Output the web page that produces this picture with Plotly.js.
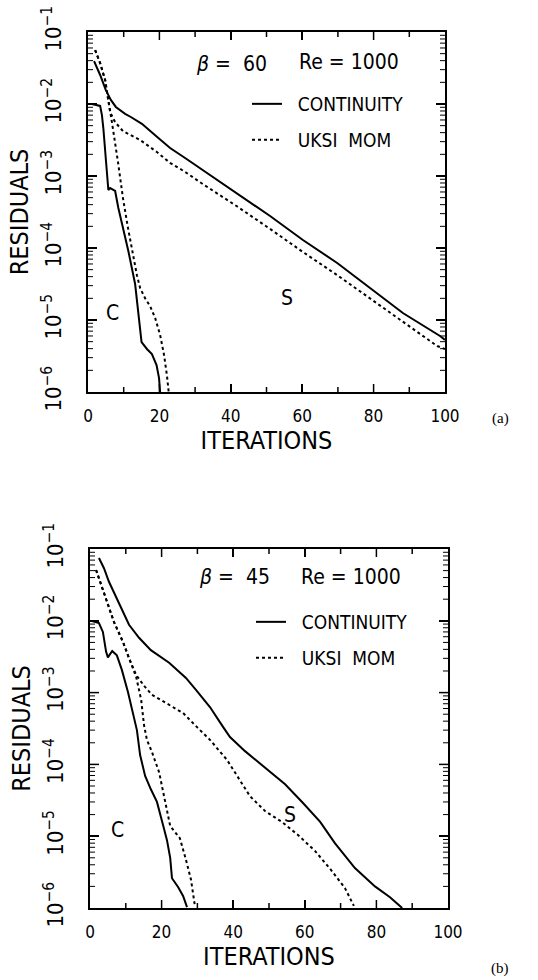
<!DOCTYPE html>
<html><head><meta charset="utf-8">
<script src="https://cdn.plot.ly/plotly-3.0.1.min.js"></script>
<style>html,body{margin:0;padding:0;background:#fff}#chart{width:538px;height:980px}</style>
</head><body><div id="chart"></div>
<script>
// ---------- Panel (a): beta = 60, Re = 1000 ----------
const itA_contS = [1.7, 3.4, 5.0, 6.4, 7.8, 10.4, 12.0, 15.1, 19.3, 23.0, 27.2, 33.3, 41.7, 51.0, 60.2, 69.8, 79.0, 88.2, 98.6, 100];
const resA_contS = [3.95e-2, 2.53e-2, 1.56e-2, 1.14e-2, 9.1e-3, 7.3e-3, 6.6e-3, 5.3e-3, 3.5e-3, 2.45e-3, 1.78e-3, 1.10e-3, 5.8e-4, 2.78e-4, 1.29e-4, 6.2e-5, 2.78e-5, 1.25e-5, 6.0e-6, 5.3e-6];
const itA_momS = [2.0, 3.4, 4.8, 5.6, 6.2, 7.6, 9.8, 14.6, 19.3, 23.0, 27.2, 32.2, 41.7, 51.0, 60.2, 69.8, 79.0, 88.2, 97.8, 100];
const resA_momS = [5.6e-2, 3.7e-2, 2.15e-2, 1.21e-2, 7.7e-3, 5.6e-3, 4.2e-3, 3.16e-3, 2.15e-3, 1.52e-3, 1.14e-3, 7.7e-4, 3.8e-4, 1.84e-4, 8.8e-5, 4.2e-5, 2.0e-5, 9.4e-6, 4.35e-6, 3.96e-6];
const itA_contC = [1.1, 3.4, 3.9, 4.3, 5.2, 5.7, 6.2, 7.6, 8.5, 9.9, 11.3, 13.2, 14.2, 15.0, 16.5, 17.9, 19.2, 19.9, 20.2];
const resA_contC = [1.0e-2, 9.4e-3, 7.0e-3, 4.6e-3, 1.29e-3, 6.4e-4, 6.8e-4, 6.2e-4, 3.6e-4, 1.84e-4, 9.1e-5, 3.16e-5, 1.21e-5, 4.95e-6, 3.96e-6, 3.37e-6, 2.37e-6, 1.56e-6, 1.0e-6];
const itA_momC = [2.0, 3.4, 4.8, 5.6, 6.7, 8.4, 9.8, 11.2, 12.6, 13.7, 14.6, 16.0, 17.4, 18.8, 20.2, 21.3, 22.1, 22.6];
const resA_momC = [5.6e-2, 3.7e-2, 2.15e-2, 1.25e-2, 5.6e-3, 1.56e-3, 4.9e-4, 1.9e-4, 8.0e-5, 4.2e-5, 2.78e-5, 2.0e-5, 1.56e-5, 1.07e-5, 6.2e-6, 3.27e-6, 1.72e-6, 1.0e-6];

// ---------- Panel (b): beta = 45, Re = 1000 ----------
const itB_contS = [2.5, 3.9, 5.3, 7.3, 9.2, 10.9, 13.7, 17.0, 22.1, 26.8, 29.6, 33.5, 37.2, 39.1, 43.3, 48.9, 54.5, 59.5, 64.3, 68.4, 74.0, 79.6, 83.8, 87.2];
const resB_contS = [7.5e-2, 5.4e-2, 3.5e-2, 2.1e-2, 1.33e-2, 8.8e-3, 5.8e-3, 3.9e-3, 2.6e-3, 1.6e-3, 1.09e-3, 6.3e-4, 3.3e-4, 2.4e-4, 1.53e-4, 8.9e-5, 5.3e-5, 2.9e-5, 1.58e-5, 8.0e-6, 3.6e-6, 2.0e-6, 1.41e-6, 1.0e-6];
const itB_momS = [1.7, 3.1, 5.0, 6.7, 9.2, 10.9, 12.9, 15.1, 17.3, 21.2, 26.0, 29.9, 33.5, 38.3, 41.9, 44.7, 48.9, 53.6, 58.1, 62.9, 67.3, 71.2, 73.7];
const resB_momS = [5.1e-2, 3.16e-2, 1.77e-2, 9.6e-3, 5.1e-3, 3.0e-3, 1.76e-3, 1.24e-3, 9.3e-4, 7.2e-4, 5.2e-4, 3.3e-4, 2.2e-4, 1.15e-4, 6.1e-5, 3.6e-5, 2.24e-5, 1.58e-5, 1.04e-5, 6.2e-6, 3.4e-6, 1.9e-6, 1.07e-6];
const itB_contC = [0.6, 2.5, 3.6, 4.5, 5.0, 6.2, 7.5, 8.9, 10.6, 12.0, 13.1, 14.0, 15.4, 17.0, 18.7, 20.4, 21.5, 22.4, 22.9, 24.6, 26.0, 27.1];
const resB_contC = [9.9e-3, 9.3e-3, 7.0e-3, 3.7e-3, 3.1e-3, 3.8e-3, 3.3e-3, 2.07e-3, 1.02e-3, 5.4e-4, 3.0e-4, 1.35e-4, 6.9e-5, 4.5e-5, 3.0e-5, 1.43e-5, 8.8e-6, 5.0e-6, 2.6e-6, 1.96e-6, 1.47e-6, 1.03e-6];
const itB_momC = [1.7, 3.1, 5.0, 6.7, 9.2, 10.9, 12.9, 14.3, 15.1, 15.9, 17.3, 19.3, 21.0, 22.4, 23.5, 25.1, 26.8, 28.2, 29.3];
const resB_momC = [5.1e-2, 3.16e-2, 1.77e-2, 9.6e-3, 5.1e-3, 3.0e-3, 1.65e-3, 7.9e-4, 3.5e-4, 2.2e-4, 1.49e-4, 7.8e-5, 3.2e-5, 1.39e-5, 1.18e-5, 9.4e-6, 4.7e-6, 2.5e-6, 1.07e-6];

// ---------- Ticks and labels ----------
const xTickVals = [0, 20, 40, 60, 80, 100];
const xTickText = ['0', '20', '40', '60', '80', '100'];
const xMinorStep = 10;
const yTickVals = [1e-6, 1e-5, 1e-4, 1e-3, 1e-2, 1e-1];
const yTickText = ['10<sup>\u22126</sup>', '10<sup>\u22125</sup>', '10<sup>\u22124</sup>', '10<sup>\u22123</sup>', '10<sup>\u22122</sup>', '10<sup>\u22121</sup>'];
const yMinorDigits = [2, 3, 4, 5, 6, 7, 8, 9];
const seriesNames = ['CONTINUITY', 'UKSI\u00a0\u00a0MOM'];
const panelBetas = ['60', '45'];
const panelRe = '1000';
const panelTags = ['(a)', '(b)'];

const FONT = "'Liberation Sans Narrow','DejaVu Sans Condensed','Liberation Sans',Arial,sans-serif";
const BLACK = '#000';
const CLEAR = 'rgba(0,0,0,0)';

function tr(x, y, xa, ya, dash, name, legend, show) {
  return {x: x, y: y, xaxis: xa, yaxis: ya, type: 'scatter', mode: 'lines',
    line: {color: BLACK, width: 2, dash: dash}, name: name, legend: legend, showlegend: show};
}
// empty helper traces that only bring the label axes into existence
function holder(xa, ya) {
  return {x: [], y: [], xaxis: xa, yaxis: ya, type: 'scatter', mode: 'lines', showlegend: false};
}
const DOT = '3px,3px';
const pad = '\u00a0\u00a0';
const data = [
  tr(itA_contS, resA_contS, 'x', 'y', 'solid', pad + seriesNames[0], 'legend', true),
  tr(itA_momS, resA_momS, 'x', 'y', DOT, pad + seriesNames[1], 'legend2', true),
  tr(itA_contC, resA_contC, 'x', 'y', 'solid', seriesNames[0], 'legend', false),
  tr(itA_momC, resA_momC, 'x', 'y', DOT, seriesNames[1], 'legend2', false),
  tr(itB_contS, resB_contS, 'x2', 'y2', 'solid', pad + seriesNames[0], 'legend3', true),
  tr(itB_momS, resB_momS, 'x2', 'y2', DOT, pad + seriesNames[1], 'legend4', true),
  tr(itB_contC, resB_contC, 'x2', 'y2', 'solid', seriesNames[0], 'legend3', false),
  tr(itB_momC, resB_momC, 'x2', 'y2', DOT, seriesNames[1], 'legend4', false),
  holder('x3', 'y'), holder('x', 'y3'), holder('x4', 'y2'), holder('x2', 'y4')
];

// frame axes: box lines on all four sides, no labels
function xFrame(domain, anchor) {
  return {domain: domain, anchor: anchor, range: [0, 100], tickmode: 'array', tickvals: xTickVals,
    ticks: 'inside', ticklen: 8, tickwidth: 1.5, tickcolor: BLACK, mirror: 'ticks', showline: true, linewidth: 2, linecolor: BLACK,
    showgrid: false, zeroline: false, showticklabels: false, fixedrange: true};
}
function yFrame(domain, anchor) {
  return {domain: domain, anchor: anchor, type: 'log', range: [-6, -1], tickmode: 'array', tickvals: yTickVals,
    ticks: 'inside', ticklen: 9, tickwidth: 1.5, tickcolor: BLACK, mirror: 'ticks', showline: true, linewidth: 2, linecolor: BLACK,
    showgrid: false, zeroline: false, showticklabels: false, fixedrange: true};
}
// label axes: transparent outside ticks give the gap between frame and labels
function xLabels(over, anchor) {
  return {overlaying: over, anchor: anchor, side: 'bottom', range: [0, 100], tickmode: 'array', tickvals: xTickVals, ticktext: xTickText,
    ticks: 'outside', ticklen: 9, tickcolor: CLEAR, showline: false, showgrid: false, zeroline: false,
    tickfont: {family: FONT, size: 17, color: BLACK},
    title: {text: 'ITERATIONS', font: {family: FONT, size: 25, color: BLACK}, standoff: 4}, fixedrange: true};
}
function yLabels(over, anchor) {
  return {overlaying: over, anchor: anchor, side: 'left', type: 'log', range: [-6, -1], tickmode: 'array', tickvals: yTickVals, ticktext: yTickText,
    tickangle: -90, ticks: 'outside', ticklen: 17, tickcolor: CLEAR, showline: false, showgrid: false, zeroline: false,
    tickfont: {family: FONT, size: 22, color: BLACK},
    title: {text: 'RESIDUALS', font: {family: FONT, size: 25, color: BLACK}, standoff: 2}, fixedrange: true};
}

// inside tick marks on all four sides, placed through the axes' own scales
function tickShapes(xr, yr, wpx, hpx) {
  const out = [];
  const seg = (o) => Object.assign({type: 'line', layer: 'above', line: {color: BLACK, width: 1.5}}, o);
  for (let v = xTickVals[0] + xMinorStep; v < xTickVals[xTickVals.length - 1]; v += xMinorStep) {
    const len = (xTickVals.indexOf(v) >= 0 ? 8 : 5) / hpx;
    out.push(seg({xref: xr, yref: yr + ' domain', x0: v, x1: v, y0: 0, y1: len}));
    out.push(seg({xref: xr, yref: yr + ' domain', x0: v, x1: v, y0: 1, y1: 1 - len}));
  }
  yTickVals.forEach(function (v, i) {
    if (i > 0 && i < yTickVals.length - 1) {
      const len = 9 / wpx;
      out.push(seg({xref: xr + ' domain', yref: yr, x0: 0, x1: len, y0: v, y1: v}));
      out.push(seg({xref: xr + ' domain', yref: yr, x0: 1, x1: 1 - len, y0: v, y1: v}));
    }
    if (i < yTickVals.length - 1) {
      yMinorDigits.forEach(function (k) {
        const len = 5 / wpx, m = v * k;
        out.push(Object.assign(seg({xref: xr + ' domain', yref: yr, x0: 0, x1: len, y0: m, y1: m}), {line: {color: BLACK, width: 1}}));
        out.push(Object.assign(seg({xref: xr + ' domain', yref: yr, x0: 1, x1: 1 - len, y0: m, y1: m}), {line: {color: BLACK, width: 1}}));
      });
    }
  });
  return out;
}

function ann(text, x, y, xref, yref, size, fam) {
  return {text: text, x: x, y: y, xref: xref, yref: yref, showarrow: false, xanchor: 'center', yanchor: 'middle',
    font: {family: fam || FONT, size: size, color: BLACK}};
}
const annotations = [
  ann('<i>\u03b2</i> =\u00a0\u00a0' + panelBetas[0], 40.2, -1.44, 'x', 'y', 21),
  ann('Re = ' + panelRe, 73.1, -1.42, 'x', 'y', 21),
  ann('C', 7.0, -4.90, 'x', 'y', 21),
  ann('S', 55.7, -4.69, 'x', 'y', 21),
  ann('<i>\u03b2</i> =\u00a0\u00a0' + panelBetas[1], 40.4, -1.39, 'x2', 'y2', 21),
  ann('Re = ' + panelRe, 73.0, -1.39, 'x2', 'y2', 21),
  ann('C', 7.8, -4.91, 'x2', 'y2', 21),
  ann('S', 55.9, -4.70, 'x2', 'y2', 21),
  ann(panelTags[0], 500 / 538, 1 - 418 / 980, 'paper', 'paper', 15, "'Liberation Serif',serif"),
  ann(panelTags[1], 500 / 538, 1 - 968 / 980, 'paper', 'paper', 15, "'Liberation Serif',serif")
];

function legendAt(xpx, ypx) {
  return {x: xpx / 538, y: 1 - ypx / 980, xanchor: 'left', yanchor: 'top', bgcolor: CLEAR,
    font: {family: FONT, size: 19, color: BLACK}};
}

const layout = {
  width: 538, height: 980, margin: {l: 0, r: 0, t: 0, b: 0}, paper_bgcolor: '#fff', plot_bgcolor: CLEAR,
  showlegend: true,
  xaxis: xFrame([88 / 538, 445 / 538], 'y'),
  yaxis: yFrame([1 - 392 / 980, 1 - 32 / 980], 'x'),
  xaxis2: xFrame([90 / 538, 448 / 538], 'y2'),
  yaxis2: yFrame([1 - 908 / 980, 1 - 549 / 980], 'x2'),
  xaxis3: xLabels('x', 'y'),
  yaxis3: yLabels('y', 'x'),
  xaxis4: xLabels('x2', 'y2'),
  yaxis4: yLabels('y2', 'x2'),
  legend: legendAt(247, 85),
  legend2: legendAt(247, 121),
  legend3: legendAt(251, 603),
  legend4: legendAt(251, 639),
  shapes: tickShapes('x', 'y', 357, 360).concat(tickShapes('x2', 'y2', 358, 359)),
  annotations: annotations
};
Plotly.newPlot('chart', data, layout, {staticPlot: true});
</script>
</body></html>
